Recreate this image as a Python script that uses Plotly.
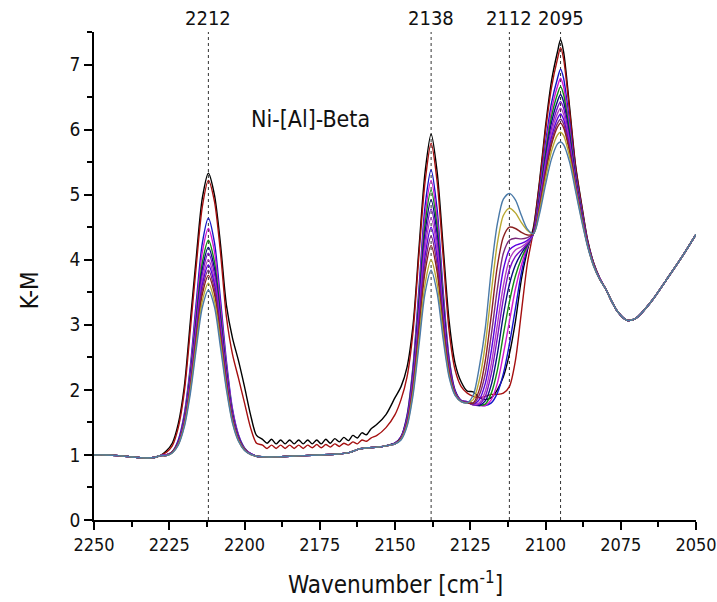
import plotly.graph_objects as go

# ---------------- data ----------------
SERIES = ["s01", "s02", "s03", "s04", "s05", "s06", "s07",
          "s08", "s09", "s10", "s11", "s12", "s13"]
COLORS = ["#000000", "#a50f0f", "#1515c8", "#d017d0", "#128a12", "#0a0a80",
          "#7a10c8", "#b040c0", "#5a00e0", "#7a2a7a", "#8a2020", "#b8a830",
          "#4a7aa8"]

LEFT_X = [2250, 2246, 2242, 2238, 2234, 2230, 2228]
LEFT_Y = [1.00, 1.00, 0.99, 0.97, 0.955, 0.96, 0.99]

P1_X = [2226, 2224, 2222, 2220, 2218, 2216, 2214, 2212,
        2210, 2208, 2206, 2204, 2202, 2200, 2198, 2196]
P1_Y = [
    [1.06, 1.18, 1.48, 2.05, 3.05, 4.05, 4.95, 5.33, 5.00, 4.25, 3.30, 2.80, 2.45, 2.05, 1.62, 1.30],
    [1.04, 1.14, 1.42, 1.97, 2.92, 3.92, 4.82, 5.22, 4.90, 4.12, 3.12, 2.55, 2.18, 1.80, 1.42, 1.18],
    [1.00, 1.05, 1.23, 1.63, 2.36, 3.36, 4.26, 4.64, 4.27, 3.40, 2.44, 1.71, 1.31, 1.11, 1.02, 0.98],
    [1.00, 1.05, 1.21, 1.60, 2.30, 3.25, 4.12, 4.48, 4.13, 3.29, 2.38, 1.68, 1.30, 1.10, 1.02, 0.98],
    [1.00, 1.05, 1.20, 1.57, 2.24, 3.13, 3.96, 4.30, 3.97, 3.17, 2.31, 1.64, 1.28, 1.10, 1.02, 0.98],
    [1.00, 1.04, 1.20, 1.55, 2.19, 3.06, 3.86, 4.19, 3.87, 3.10, 2.26, 1.62, 1.27, 1.09, 1.02, 0.98],
    [1.00, 1.04, 1.19, 1.53, 2.16, 3.01, 3.78, 4.10, 3.79, 3.04, 2.23, 1.60, 1.26, 1.09, 1.02, 0.98],
    [1.00, 1.04, 1.18, 1.52, 2.12, 2.94, 3.69, 4.00, 3.70, 2.97, 2.19, 1.58, 1.25, 1.09, 1.02, 0.98],
    [0.99, 1.04, 1.18, 1.50, 2.09, 2.89, 3.62, 3.92, 3.63, 2.92, 2.16, 1.57, 1.25, 1.08, 1.02, 0.98],
    [0.99, 1.04, 1.17, 1.49, 2.06, 2.84, 3.55, 3.84, 3.55, 2.87, 2.12, 1.55, 1.24, 1.08, 1.01, 0.98],
    [0.99, 1.04, 1.17, 1.47, 2.03, 2.78, 3.47, 3.76, 3.48, 2.82, 2.09, 1.54, 1.23, 1.08, 1.01, 0.98],
    [0.99, 1.03, 1.16, 1.45, 1.99, 2.71, 3.37, 3.64, 3.37, 2.74, 2.04, 1.51, 1.22, 1.07, 1.01, 0.98],
    [0.99, 1.03, 1.15, 1.43, 1.94, 2.64, 3.27, 3.53, 3.28, 2.66, 2.00, 1.49, 1.21, 1.07, 1.01, 0.98],
]

BASE_LOW_X = [2193, 2190, 2185, 2180, 2175, 2170, 2165, 2162, 2159, 2156, 2153]
BASE_LOW_Y = [0.97, 0.97, 0.98, 0.99, 1.00, 1.01, 1.04, 1.09, 1.11, 1.12, 1.14]

WIG_X = [2194, 2192.5, 2191, 2189.5, 2188, 2186.5, 2185, 2183.5, 2182, 2180.5,
         2179, 2177.5, 2176, 2174.5, 2173, 2171.5, 2170, 2168.5, 2167, 2165.5,
         2164, 2162.5, 2161, 2159.5, 2158, 2156, 2153]
WIG_Y_BLACK = [1.24, 1.18, 1.24, 1.17, 1.23, 1.17, 1.23, 1.17, 1.23, 1.17,
               1.23, 1.17, 1.23, 1.17, 1.24, 1.18, 1.25, 1.20, 1.27, 1.22,
               1.30, 1.26, 1.34, 1.31, 1.40, 1.47, 1.62]
WIG_Y_RED = [1.15, 1.10, 1.15, 1.10, 1.15, 1.10, 1.15, 1.10, 1.15, 1.10,
             1.15, 1.11, 1.16, 1.11, 1.16, 1.12, 1.17, 1.13, 1.18, 1.15,
             1.20, 1.17, 1.23, 1.21, 1.26, 1.30, 1.42]

P2_X = [2150, 2148, 2146, 2144, 2142, 2140, 2138, 2136, 2134, 2132, 2130, 2128]
P2_Y = [
    [1.88, 2.05, 2.35, 3.00, 4.20, 5.35, 5.93, 5.35, 4.20, 3.05, 2.40, 2.12],
    [1.62, 1.85, 2.20, 2.90, 4.10, 5.20, 5.79, 5.20, 4.05, 2.90, 2.30, 2.05],
    [1.18, 1.28, 1.61, 2.37, 3.58, 4.83, 5.38, 4.77, 3.52, 2.48, 1.99, 1.84],
    [1.18, 1.28, 1.59, 2.32, 3.49, 4.69, 5.22, 4.64, 3.44, 2.45, 1.98, 1.83],
    [1.18, 1.27, 1.58, 2.28, 3.40, 4.56, 5.07, 4.51, 3.37, 2.42, 1.97, 1.83],
    [1.18, 1.27, 1.56, 2.24, 3.32, 4.43, 4.92, 4.39, 3.30, 2.39, 1.97, 1.83],
    [1.18, 1.26, 1.55, 2.20, 3.24, 4.31, 4.78, 4.27, 3.23, 2.37, 1.96, 1.83],
    [1.17, 1.26, 1.53, 2.16, 3.16, 4.19, 4.64, 4.16, 3.16, 2.34, 1.95, 1.83],
    [1.17, 1.25, 1.52, 2.11, 3.08, 4.06, 4.50, 4.04, 3.10, 2.31, 1.94, 1.83],
    [1.17, 1.25, 1.50, 2.07, 3.00, 3.94, 4.36, 3.92, 3.03, 2.29, 1.94, 1.83],
    [1.17, 1.25, 1.48, 2.03, 2.92, 3.82, 4.22, 3.81, 2.96, 2.26, 1.93, 1.82],
    [1.17, 1.24, 1.46, 1.97, 2.79, 3.63, 4.00, 3.63, 2.86, 2.22, 1.92, 1.82],
    [1.17, 1.23, 1.44, 1.92, 2.70, 3.49, 3.84, 3.49, 2.78, 2.19, 1.91, 1.82],
]

P3_X = [2126, 2124, 2122, 2120, 2118, 2116, 2114, 2112, 2110, 2108, 2106, 2104]
P3_Y = [
    [1.98, 1.97, 1.88, 1.85, 1.88, 2.00, 2.20, 2.55, 3.05, 3.70, 4.15, 4.50],
    [1.95, 1.90, 1.88, 1.90, 1.93, 1.93, 1.95, 2.05, 2.45, 3.20, 3.95, 4.45],
    [1.82, 1.79, 1.77, 1.76, 1.80, 1.95, 2.25, 2.70, 3.25, 3.80, 4.18, 4.42],
    [1.82, 1.78, 1.76, 1.76, 1.85, 2.10, 2.55, 3.05, 3.55, 3.92, 4.20, 4.40],
    [1.81, 1.78, 1.76, 1.78, 1.95, 2.30, 2.85, 3.35, 3.75, 4.02, 4.22, 4.40],
    [1.81, 1.77, 1.76, 1.83, 2.08, 2.55, 3.15, 3.62, 3.92, 4.10, 4.24, 4.40],
    [1.81, 1.77, 1.78, 1.90, 2.25, 2.80, 3.40, 3.85, 4.05, 4.15, 4.25, 4.40],
    [1.81, 1.77, 1.80, 1.98, 2.40, 3.00, 3.60, 4.00, 4.15, 4.20, 4.27, 4.40],
    [1.81, 1.78, 1.85, 2.10, 2.60, 3.25, 3.85, 4.15, 4.22, 4.25, 4.30, 4.40],
    [1.81, 1.78, 1.92, 2.25, 2.85, 3.55, 4.10, 4.30, 4.33, 4.32, 4.34, 4.40],
    [1.80, 1.80, 2.00, 2.45, 3.15, 3.90, 4.35, 4.50, 4.48, 4.42, 4.38, 4.40],
    [1.80, 1.85, 2.15, 2.70, 3.50, 4.25, 4.68, 4.79, 4.72, 4.57, 4.45, 4.40],
    [1.80, 1.92, 2.35, 2.95, 3.85, 4.55, 4.93, 5.02, 4.92, 4.68, 4.47, 4.40],
]

P4_X = [2102, 2100, 2098, 2096, 2095, 2094, 2092, 2090, 2088, 2086, 2084, 2082]
P4_Y = [
    [5.20, 6.05, 6.75, 7.20, 7.38, 7.20, 6.35, 5.45, 4.85, 4.30, 3.95, 3.72],
    [5.16, 5.98, 6.65, 7.09, 7.26, 7.09, 6.28, 5.42, 4.83, 4.29, 3.95, 3.72],
    [5.06, 5.79, 6.41, 6.79, 6.93, 6.79, 6.11, 5.34, 4.78, 4.27, 3.94, 3.71],
    [5.01, 5.71, 6.30, 6.67, 6.79, 6.66, 6.03, 5.30, 4.76, 4.26, 3.93, 3.71],
    [4.97, 5.64, 6.20, 6.55, 6.66, 6.54, 5.96, 5.27, 4.74, 4.25, 3.93, 3.71],
    [4.93, 5.57, 6.11, 6.44, 6.54, 6.43, 5.90, 5.24, 4.72, 4.25, 3.92, 3.71],
    [4.90, 5.51, 6.02, 6.34, 6.43, 6.33, 5.84, 5.21, 4.70, 4.24, 3.92, 3.71],
    [4.87, 5.45, 5.95, 6.25, 6.33, 6.24, 5.78, 5.18, 4.68, 4.23, 3.92, 3.71],
    [4.84, 5.40, 5.88, 6.17, 6.24, 6.16, 5.73, 5.16, 4.67, 4.23, 3.91, 3.71],
    [4.81, 5.35, 5.82, 6.10, 6.16, 6.09, 5.69, 5.14, 4.66, 4.22, 3.91, 3.70],
    [4.79, 5.32, 5.77, 6.04, 6.10, 6.03, 5.66, 5.12, 4.65, 4.22, 3.91, 3.70],
    [4.75, 5.24, 5.67, 5.92, 5.96, 5.91, 5.58, 5.09, 4.62, 4.21, 3.90, 3.70],
    [4.70, 5.15, 5.55, 5.78, 5.81, 5.77, 5.50, 5.05, 4.60, 4.20, 3.90, 3.70],
]

RIGHT_X = [2080, 2078, 2076, 2073, 2070, 2065, 2060, 2055, 2050]
RIGHT_Y = [3.55, 3.36, 3.20, 3.07, 3.10, 3.35, 3.68, 4.02, 4.39]

PEAK_MARKS = [2212, 2138, 2112, 2095]
PEAK_LABELS = ["2212", "2138", "2112", "2095"]
SAMPLE_LABEL = "Ni-[Al]-Beta"
X_TITLE = "Wavenumber [cm<sup>-1</sup>]"
Y_TITLE = "K-M"
X_TICKS = [2250, 2225, 2200, 2175, 2150, 2125, 2100, 2075, 2050]
Y_TICKS = [0, 1, 2, 3, 4, 5, 6, 7]

# ---------------- figure ----------------
FONT = "DejaVu Sans Condensed, Liberation Sans Narrow, Liberation Sans, sans-serif"
TXT = "#111111"
fig = go.Figure()

for i, name in enumerate(SERIES):
    if i == 0:
        bx, by = WIG_X, WIG_Y_BLACK
    elif i == 1:
        bx, by = WIG_X, WIG_Y_RED
    else:
        bx, by = BASE_LOW_X, BASE_LOW_Y
    xs = LEFT_X + P1_X + bx + P2_X + P3_X + P4_X + RIGHT_X
    ys = LEFT_Y + P1_Y[i] + by + P2_Y[i] + P3_Y[i] + P4_Y[i] + RIGHT_Y
    fig.add_trace(go.Scatter(
        x=xs, y=ys, mode="lines", name=name,
        line=dict(color=COLORS[i], width=1.4, shape="spline", smoothing=0.8),
        hoverinfo="skip", showlegend=False))

for xv, lab in zip(PEAK_MARKS, PEAK_LABELS):
    fig.add_shape(type="line", xref="x", yref="paper", x0=xv, x1=xv, y0=0, y1=1,
                  line=dict(color="#333333", width=1, dash="3px,3px"), layer="below")
    fig.add_annotation(x=xv, y=1, xref="x", yref="paper", text=lab, showarrow=False,
                       yanchor="bottom", yshift=0, font=dict(size=20, color=TXT, family=FONT))

fig.add_annotation(x=2178, y=6.17, xref="x", yref="y", text=SAMPLE_LABEL, showarrow=False,
                   font=dict(size=23, color=TXT, family=FONT))

# axis titles placed as annotations
fig.add_annotation(x=0.5, y=-0.129, xref="paper", yref="paper", text=X_TITLE, showarrow=False,
                   xanchor="center", yanchor="middle", font=dict(size=24, color=TXT, family=FONT))
fig.add_annotation(x=-0.106, y=0.471, xref="paper", yref="paper", text=Y_TITLE, showarrow=False,
                   textangle=-90, xanchor="center", yanchor="middle",
                   font=dict(size=24, color=TXT, family=FONT))

fig.update_layout(
    width=717, height=602,
    margin=dict(l=94, r=21, t=32, b=82),
    paper_bgcolor="white", plot_bgcolor="white",
    font=dict(family=FONT, color=TXT),
    xaxis=dict(
        range=[2250, 2050], tickvals=X_TICKS, ticks="outside", ticklen=8, tickwidth=1.5,
        tickcolor="black", showline=True, linecolor="black", linewidth=1.5,
        showgrid=False, zeroline=False, automargin=False, ticklabeloverflow="allow",
        tickfont=dict(size=18, family=FONT, color=TXT),
        minor=dict(dtick=12.5, tick0=2050, ticks="outside", ticklen=5, tickwidth=1.5, tickcolor="black"),
    ),
    yaxis=dict(
        range=[0, 7.5], tickvals=Y_TICKS, ticks="outside", ticklen=8, tickwidth=1.5,
        tickcolor="black", showline=True, linecolor="black", linewidth=1.5,
        showgrid=False, zeroline=False, automargin=False, ticklabeloverflow="allow",
        tickfont=dict(size=19, family=FONT, color=TXT),
        minor=dict(dtick=0.5, tick0=0, ticks="outside", ticklen=5, tickwidth=1.5, tickcolor="black"),
    ),
)

fig.write_html("out.html")
